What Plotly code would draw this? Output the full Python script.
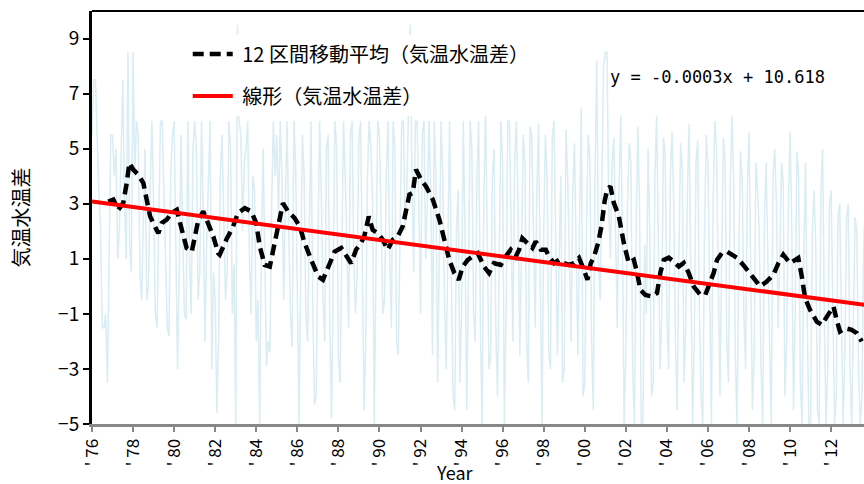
import numpy as np
import plotly.graph_objects as go

# ---------------- data ----------------
# monthly air-water temperature difference, Jan 1976 onwards
raw_1976_1985 = [
    5.5, 7.5, 7.5, 5.0, 3.5, 2.0, -1.5, -1.5, -1.0, -3.5, 1.5, 5.5,
    5.5, 4.0, 5.0, 1.0, 2.0, 5.0, 7.5, 3.0, 1.0, 8.5, 1.5, 0.5,
    8.5, 4.0, 6.0, 5.5, 0.5, -0.5, 2.0, 5.0, -0.5, 0.0, 3.5, 6.0,
    3.0, -1.0, -1.5, 2.5, 6.0, 6.0, 3.5, 1.5, -1.5, -1.8, 4.0, 5.5,
    6.0, 1.5, -3.0, 0.5, 5.5, 2.0, -1.0, -1.2, 6.0, 1.0, -1.0, 5.0,
    6.0, 5.0, -0.5, 0.5, 6.0, 3.0, -2.0, 1.5, 4.0, 6.0, -3.0, 0.5,
    -0.5, -4.6, -1.8, 4.0, 5.5, 2.0, -0.5, 0.5, 6.0, 5.0, -1.0, 0.8,
    -5.0, 9.5, 6.0, 5.5, 2.0, 4.5, 5.0, 6.0, 1.0, -1.0, 4.0, 3.5,
    -2.0, -0.5, -5.0, 1.5, 5.0, 1.0, -2.9, -2.0, -2.4, 3.0, 6.0, 4.0,
    5.5, 2.5, 6.0, 4.0, -0.5, 3.0, 6.0, 2.0, -1.0, -2.2, 6.0, 4.5,
]
raw_1986_1995 = [
    0.0, -5.0, 0.5, 5.5, 4.0, -1.0, -2.0, 3.0, 6.0, -0.5, -4.3, -4.0,
    1.0, 6.0, 3.5, -0.5, -2.0, 5.0, 5.5, -1.5, -4.8, 1.5, 6.0, 5.0,
    -2.5, -3.5, 2.0, 6.0, 4.0, 0.5, -1.5, 5.5, 6.0, 1.0, -1.0, 0.5,
    5.5, 6.0, 1.5, -4.5, -2.0, 4.0, 6.0, 5.0, 3.0, -5.0, 1.0, 6.0,
    5.5, 2.0, -1.0, -0.5, 4.0, 6.0, 1.0, -1.5, 6.0, 5.0, -2.0, -2.5,
    1.5, 6.0, 6.0, 2.0, 3.5, 6.0, 9.5, 4.0, 0.5, 6.0, 6.0, 3.0,
    -1.0, 5.5, 6.0, 1.0, 3.0, 6.0, 3.5, -2.5, 6.0, 4.0, -3.5, 1.0,
    6.0, 4.0, -0.5, -3.0, 2.0, 6.0, 0.5, -4.0, -4.5, 2.0, 3.5, -3.5,
    -1.0, 6.0, 2.0, -4.5, 0.0, 6.0, 5.0, -1.0, -2.0, 4.0, 6.0, -1.5,
    -5.0, 3.0, 6.5, 1.5, -3.0, -2.5, 4.0, 5.0, -1.5, -4.0, 1.5, 6.0,
]
raw_1996_2005 = [
    4.5, -5.0, -1.0, 6.0, 6.0, 2.0, -2.0, 4.5, 6.0, 3.0, -2.5, 1.0,
    5.5, 4.5, -2.0, -3.5, 5.8, 5.5, 2.0, -1.5, 3.5, 5.9, 0.0, -5.0,
    2.0, 5.5, 4.0, -2.5, -3.0, 5.4, 6.0, 1.0, -2.5, 1.0, 4.0, -3.5,
    -3.0, 5.7, 4.0, 1.0, -2.0, 3.5, 5.2, 1.0, -2.5, 2.5, 6.5, -4.0,
    -3.5, 2.0, 5.5, 4.6, -2.0, -4.5, 4.0, 8.2, 1.0, -0.5, 4.5, 8.0,
    8.5, 8.5, 3.0, 1.0, 4.5, 5.4, 2.0, -1.5, 3.5, 6.2, 2.0, -5.0,
    -2.5, 3.0, 5.2, 4.5, -3.0, -5.0, 2.0, 5.8, 3.0, -5.0, -5.0, 1.5,
    -1.0, 5.0, 2.0, -4.0, -3.5, 4.0, 6.2, 1.0, -3.0, -1.0, 5.4, 4.8,
    -1.0, -3.0, 4.0, 5.6, 3.0, -2.0, -4.5, 1.0, 5.2, 4.2, -3.5, -1.5,
    3.5, 5.9, -1.0, -5.0, -2.0, 4.5, 5.3, -1.0, -4.0, -5.0, 2.0, 5.5,
]
raw_2006_2013 = [
    4.5, -1.5, -5.0, 3.0, 6.0, 5.0, 0.5, -4.0, 1.0, 5.4, 4.6, -2.0,
    -3.5, 3.5, 6.2, 4.0, -2.5, -5.0, 1.0, 4.9, 4.0, -1.0, -3.0, 3.5,
    5.6, 0.5, -4.5, -2.5, 4.5, 3.5, 2.0, -3.0, -5.0, 2.5, 4.5, 1.0,
    -2.5, -5.0, 4.0, 5.0, 3.0, -1.5, 1.0, 4.5, 3.8, -4.0, -2.0, 3.0,
    5.6, 2.0, -4.5, -1.0, 4.9, 4.0, -3.5, -5.0, 1.0, 4.5, -1.0, -5.0,
    -5.0, 2.0, 3.5, 1.5, -4.5, -5.0, 3.5, 5.0, -1.0, -5.0, -3.0, 3.0,
    3.5, -1.0, -5.0, -4.0, 2.5, 3.0, -2.0, -5.0, -2.5, 2.5, 3.0, -3.0,
    -5.0, -1.0, 2.5, 2.0, -3.0, -5.0, -4.0, 1.5, 3.0, -2.0,
]
raw_start_year = 1976

# 12-month moving average (decimal year, value)
ma_years = [
    1976.79, 1977.04, 1977.28, 1977.52, 1977.69, 1977.82, 1978.01, 1978.26, 1978.50, 1978.66,
    1978.83, 1979.07, 1979.23, 1979.40, 1979.64, 1979.88, 1980.13, 1980.29, 1980.45, 1980.61,
    1980.86, 1981.02, 1981.18, 1981.42, 1981.66, 1981.91, 1982.15, 1982.22, 1982.54, 1982.87,
    1983.11, 1983.44, 1983.76, 1984.00, 1984.17, 1984.41, 1984.66, 1984.90, 1985.14, 1985.30,
    1985.55, 1985.87, 1986.12, 1986.36, 1986.68, 1987.01, 1987.25, 1987.50, 1987.82, 1988.14,
    1988.39, 1988.62, 1988.86, 1989.10, 1989.26, 1989.48, 1989.67, 1989.92, 1990.16, 1990.40,
    1990.65, 1990.89, 1991.13, 1991.29, 1991.46, 1991.62, 1991.78, 1992.03, 1992.27, 1992.60,
    1992.92, 1993.16, 1993.40, 1993.65, 1993.86, 1994.06, 1994.30, 1994.54, 1994.79, 1995.09,
    1995.34, 1995.58, 1995.91, 1996.15, 1996.39, 1996.64, 1996.80, 1996.96, 1997.20, 1997.45,
    1997.61, 1997.86, 1998.10, 1998.26, 1998.50, 1998.75, 1998.99, 1999.23, 1999.48, 1999.72,
    1999.96, 2000.13, 2000.29, 2000.45, 2000.65, 2000.81, 2000.97, 2001.09, 2001.25, 2001.41,
    2001.66, 2001.90, 2002.14, 2002.39, 2002.55, 2002.71, 2002.95, 2003.28, 2003.52, 2003.68,
    2003.85, 2004.09, 2004.33, 2004.58, 2004.82, 2005.06, 2005.31, 2005.63, 2005.87, 2006.04,
    2006.28, 2006.44, 2006.69, 2006.93, 2007.08, 2007.40, 2007.72, 2008.05, 2008.29, 2008.54,
    2008.86, 2009.19, 2009.43, 2009.67, 2010.00, 2010.40, 2010.57, 2010.73, 2010.97, 2011.30,
    2011.54, 2011.79, 2012.11, 2012.27, 2012.43, 2012.68, 2013.00, 2013.25, 2013.49,
]
ma_values = [
    3.08, 3.15, 2.78, 3.02, 3.75, 4.48, 4.24, 4.05, 3.75, 3.15,
    2.54, 2.17, 1.93, 2.30, 2.42, 2.66, 2.78, 2.30, 1.81, 1.39,
    1.26, 1.81, 2.42, 2.72, 2.30, 1.81, 1.20, 1.15, 1.69, 2.17,
    2.66, 2.84, 2.72, 2.30, 1.45, 0.78, 0.72, 1.57, 2.54, 3.02,
    2.72, 2.48, 2.17, 1.57, 0.96, 0.36, 0.24, 0.72, 1.26, 1.39,
    1.08, 0.84, 1.33, 1.57, 1.81, 2.54, 2.05, 1.93, 1.69, 1.33,
    1.69, 1.81, 2.17, 2.78, 3.33, 3.39, 4.24, 3.87, 3.63, 3.15,
    2.42, 1.69, 0.96, 0.48, 0.24, 0.72, 0.96, 1.08, 1.20, 0.72,
    0.48, 0.84, 0.78, 1.08, 1.33, 1.08, 1.33, 1.75, 1.57, 1.39,
    1.63, 1.33, 1.33, 1.08, 0.84, 0.96, 0.84, 0.78, 0.84, 1.03,
    0.60, 0.24, 0.84, 1.08, 1.57, 2.17, 3.10, 3.50, 3.63, 3.04,
    2.54, 1.58, 0.85, 0.96, 0.49, -0.13, -0.31, -0.37, -0.24, 0.49,
    0.96, 1.04, 0.90, 0.72, 0.85, 0.49, -0.01, -0.31, -0.31, 0.00,
    0.49, 0.96, 1.22, 1.26, 1.20, 1.04, 0.78, 0.49, 0.24, 0.00,
    0.17, 0.42, 0.84, 1.15, 0.84, 1.03, 0.36, -0.42, -0.85, -1.28,
    -1.40, -1.10, -0.73, -1.22, -1.64, -1.52, -1.58, -1.70, -2.00,
]

# linear trend (end points)
trend_years = [1976.0, 2013.8]
trend_values = [3.08, -0.69]
trend_equation = "y = -0.0003x + 10.618"

x_tick_years = list(range(1976, 2013, 2))
x_tick_labels = ["' " + str(y)[2:] for y in x_tick_years]
y_tick_values = [-5, -3, -1, 1, 3, 5, 7, 9]

name_ma = " 12 区間移動平均（気温水温差）"
name_trend = " 線形（気温水温差）"
y_title = "気温水温差"
x_title = "Year"

# ---------------- figure ----------------
raw_values = raw_1976_1985 + raw_1986_1995 + raw_1996_2005 + raw_2006_2013
raw_years = raw_start_year + np.arange(len(raw_values)) / 12.0

FONT = "Noto Sans CJK JP"

fig = go.Figure()
fig.add_trace(go.Scatter(
    x=raw_years, y=raw_values, mode="lines",
    line=dict(color="#D9EDF3", width=1.5),
    showlegend=False, hoverinfo="skip",
))
fig.add_trace(go.Scatter(
    x=ma_years, y=ma_values, mode="lines", name=name_ma,
    line=dict(color="black", width=4.5, dash="11px,6px"),
    legendgroup="g1",
))
fig.add_trace(go.Scatter(
    x=trend_years, y=trend_values, mode="lines", name=name_trend,
    line=dict(color="#FF0000", width=4),
    legendgroup="g2",
))

fig.update_layout(
    width=864, height=484,
    margin=dict(l=92, r=0, t=11, b=60),
    paper_bgcolor="white", plot_bgcolor="white",
    font=dict(family=FONT, size=18, color="black"),
    legend=dict(
        x=0.124, y=0.943, xanchor="left", yanchor="top",
        bgcolor="white", borderwidth=0,
        font=dict(family=FONT, size=20, color="black"),
        tracegroupgap=13, itemwidth=40,
        traceorder="grouped",
    ),
    xaxis=dict(
        range=[1976, 2013.6],
        tickmode="array", tickvals=x_tick_years, ticktext=x_tick_labels,
        tickangle=-90, tickfont=dict(size=17),
        showline=True, linecolor="#888888", linewidth=3,
        ticks="outside", tickcolor="#888888", ticklen=5, tickwidth=2,
        showgrid=False, zeroline=False,
    ),
    yaxis=dict(
        range=[-5, 10],
        tickmode="array", tickvals=y_tick_values,
        tickfont=dict(size=19),
        showline=True, linecolor="black", linewidth=3,
        ticks="outside", tickcolor="black", ticklen=6, tickwidth=2,
        showgrid=False, zeroline=False,
        title=dict(text=y_title, font=dict(size=20), standoff=24),
    ),
    shapes=[dict(type="line", xref="paper", yref="paper",
                 x0=0, x1=1, y0=1, y1=1,
                 line=dict(color="black", width=2))],
    annotations=[
        dict(text=trend_equation, xref="paper", yref="paper",
             x=0.669, y=0.840, xanchor="left", yanchor="middle",
             showarrow=False,
             font=dict(family="DejaVu Sans Mono", size=17, color="black")),
        dict(text=x_title, xref="paper", yref="paper",
             x=0.47, y=-0.117, xanchor="center", yanchor="middle",
             showarrow=False, font=dict(family=FONT, size=18, color="black")),
    ],
)

fig.write_html("out.html")
